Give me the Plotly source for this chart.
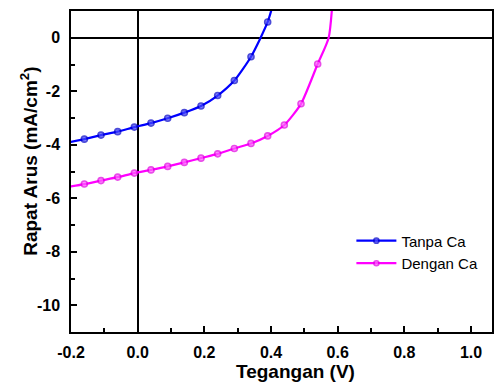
import plotly.graph_objects as go

# Tanpa Ca (blue)
v_tanpa = [-0.21, -0.16, -0.11, -0.06, -0.01, 0.04, 0.09, 0.14, 0.19, 0.24, 0.29, 0.34, 0.39, 0.42]
j_tanpa = [-3.92, -3.79, -3.64, -3.51, -3.34, -3.19, -3.01, -2.80, -2.55, -2.16, -1.60, -0.71, 0.59, 1.9]
# Dengan Ca (magenta)
v_dengan = [-0.21, -0.16, -0.11, -0.06, -0.01, 0.04, 0.09, 0.14, 0.19, 0.24, 0.29, 0.34, 0.39,
            0.44, 0.49, 0.54, 0.573, 0.59]
j_dengan = [-5.58, -5.47, -5.34, -5.21, -5.06, -4.94, -4.81, -4.66, -4.50, -4.34, -4.14, -3.95, -3.67,
            -3.26, -2.47, -0.98, 0.0, 2.4]
marker_tanpa = [0] + [6] * 12 + [0]
marker_dengan = [0] + [6] * 15 + [0, 0]

x_ticks = [-0.2, 0.0, 0.2, 0.4, 0.6, 0.8, 1.0]
x_ticktext = ["-0.2", "0.0", "0.2", "0.4", "0.6", "0.8", "1.0"]
y_ticks = [0, -2, -4, -6, -8, -10]
y_ticktext = ["0", "-2", "-4", "-6", "-8", "-10"]

FONT = "Liberation Sans, Arial, sans-serif"

fig = go.Figure()
fig.add_trace(go.Scatter(
    x=v_tanpa, y=j_tanpa, name="Tanpa Ca", mode="lines+markers",
    line=dict(color="#0000FF", width=2.2, shape="spline", smoothing=0.6),
    marker=dict(size=marker_tanpa, color="#4a4aff", line=dict(color="#0000c8", width=1.6)),
))
fig.add_trace(go.Scatter(
    x=v_dengan, y=j_dengan, name="Dengan Ca", mode="lines+markers",
    line=dict(color="#FF00FF", width=2.2, shape="spline", smoothing=0.6),
    marker=dict(size=marker_dengan, color="#ff66ff", line=dict(color="#e000e0", width=1.6)),
))

axis_common = dict(
    showline=True, linecolor="black", linewidth=1.5, mirror=True,
    ticks="inside", ticklen=6, tickwidth=1.5, tickcolor="black",
    showgrid=False, zeroline=True, zerolinecolor="black", zerolinewidth=1.5,
    tickfont=dict(family=FONT, size=16, color="black", weight="bold"),
)

fig.update_xaxes(
    range=[-0.2, 1.063], tickvals=x_ticks, ticktext=x_ticktext,
    minor=dict(ticks="inside", ticklen=4, tickwidth=1.5, tickcolor="black", dtick=0.1, tick0=0),
    ticklabelstandoff=5,
    **axis_common,
)
fig.update_yaxes(
    range=[-11, 1], tickvals=y_ticks, ticktext=y_ticktext,
    minor=dict(ticks="inside", ticklen=4, tickwidth=1.5, tickcolor="black", dtick=1, tick0=0),
    ticklabelstandoff=6,
    **axis_common,
)

fig.add_annotation(
    text="Rapat Arus (mA/cm<sup>2</sup>)", textangle=-90,
    xref="paper", yref="paper", x=-0.1, y=0.533, xanchor="center", yanchor="middle",
    showarrow=False, font=dict(family=FONT, size=19, color="black", weight="bold"),
)
fig.add_annotation(
    text="Tegangan (V)",
    xref="paper", yref="paper", x=0.534, y=-0.1215, xanchor="center", yanchor="middle",
    showarrow=False, font=dict(family=FONT, size=19, color="black", weight="bold"),
)

fig.update_layout(
    width=494, height=383,
    margin=dict(l=71, r=0, t=11, b=51),
    paper_bgcolor="white", plot_bgcolor="white",
    showlegend=True,
    legend=dict(x=0.666, y=0.335, xanchor="left", yanchor="top",
                bgcolor="rgba(0,0,0,0)", borderwidth=0,
                font=dict(family=FONT, size=15, color="black"),
                tracegroupgap=0, itemwidth=40),
)

fig.write_html("out.html")
